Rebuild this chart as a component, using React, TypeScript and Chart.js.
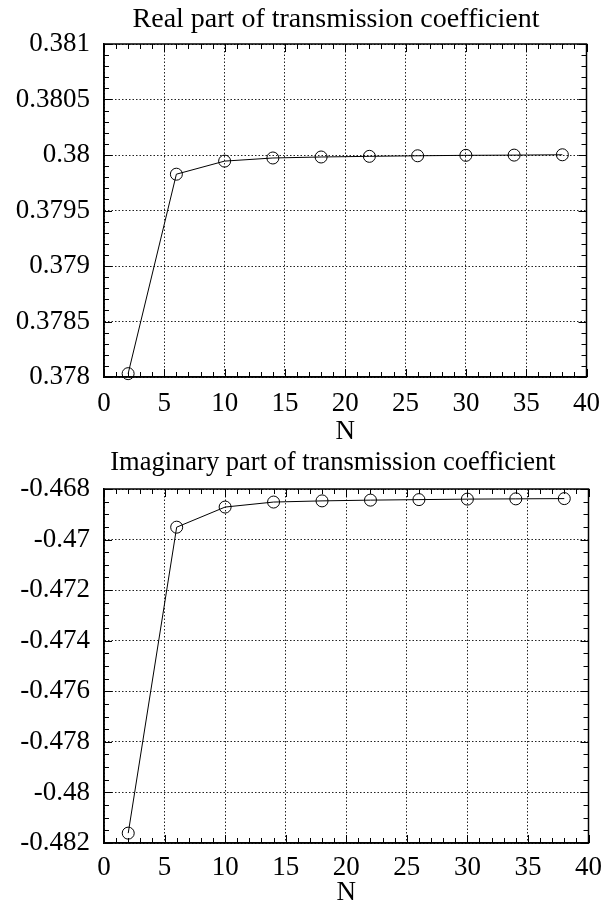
import React, { useEffect, useRef } from "react";
import { Chart, registerables } from "chart.js";

Chart.register(...registerables);

// ---- data ----
const nValues = [2, 6, 10, 14, 18, 22, 26, 30, 34, 38];
const realValues = [0.37803, 0.379827, 0.379945, 0.379973, 0.379982, 0.379988, 0.379993, 0.379997, 0.379999, 0.380002];
const imagValues = [-0.48161, -0.46951, -0.468714, -0.468516, -0.46847, -0.46844, -0.46842, -0.4684, -0.46839, -0.46838];

const xTicks = [0, 5, 10, 15, 20, 25, 30, 35, 40];
const xTickLabels = ["0", "5", "10", "15", "20", "25", "30", "35", "40"];
const realYTicks = [0.378, 0.3785, 0.379, 0.3795, 0.38, 0.3805, 0.381];
const realYLabels = ["0.378", "0.3785", "0.379", "0.3795", "0.38", "0.3805", "0.381"];
const imagYTicks = [-0.482, -0.48, -0.478, -0.476, -0.474, -0.472, -0.47, -0.468];
const imagYLabels = ["-0.482", "-0.48", "-0.478", "-0.476", "-0.474", "-0.472", "-0.47", "-0.468"];

const realTitle = "Real part of transmission coefficient";
const imagTitle = "Imaginary part of transmission coefficient";
const xTitle = "N";

const FONT_FAMILY = "'Liberation Serif', 'Times New Roman', serif";
const TICK_SIZE = 27;

const framePlugin = {
  id: "frameTicks",
  beforeDatasetsDraw(chart: any, _args: any, opts: any) {
    const { ctx, chartArea } = chart;
    const { left, right, top, bottom } = chartArea;
    const xs = chart.scales.x;
    const ys = chart.scales.y;
    ctx.save();
    ctx.setLineDash([]);
    ctx.strokeStyle = "#000";
    ctx.lineWidth = 1;
    ctx.beginPath();
    const nx = Math.round((xs.max - xs.min) / opts.xMinor);
    for (let i = 0; i <= nx; i++) {
      const v = xs.min + i * opts.xMinor;
      const px = Math.round(xs.getPixelForValue(v)) + 0.5;
      const len = i % opts.xPer === 0 ? 8 : 5;
      ctx.moveTo(px, bottom);
      ctx.lineTo(px, bottom - len);
      ctx.moveTo(px, top);
      ctx.lineTo(px, top + len);
    }
    const ny = Math.round((ys.max - ys.min) / opts.yMinor);
    for (let i = 0; i <= ny; i++) {
      const v = ys.min + i * opts.yMinor;
      const py = Math.round(ys.getPixelForValue(v)) + 0.5;
      const len = i % opts.yPer === 0 ? 8 : 5;
      ctx.moveTo(left, py);
      ctx.lineTo(left + len, py);
      ctx.moveTo(right, py);
      ctx.lineTo(right - len, py);
    }
    ctx.stroke();
    ctx.lineWidth = 1.5;
    ctx.strokeRect(left, top, right - left, bottom - top);
    ctx.restore();
  },
};

// title drawn centred on a chosen x (the reference title is not centred on the canvas)
const headingPlugin = {
  id: "heading",
  afterDraw(chart: any, _args: any, opts: any) {
    const { ctx } = chart;
    ctx.save();
    ctx.fillStyle = "#000";
    ctx.font = `normal ${opts.size}px ${FONT_FAMILY}`;
    ctx.textAlign = "center";
    ctx.textBaseline = "middle";
    ctx.fillText(opts.text, opts.x, opts.y);
    ctx.restore();
  },
};

function makeConfig(
  title: string,
  values: number[],
  yTicks: number[],
  yLabels: string[],
  layoutCfg: any,
  minorCfg: any
): any {
  const tickFont = { family: FONT_FAMILY, size: TICK_SIZE, lineHeight: 1, weight: "normal" };
  return {
    type: "line",
    data: {
      datasets: [
        {
          data: nValues.map((n, i) => ({ x: n, y: values[i] })),
          borderColor: "#000",
          borderWidth: 1,
          pointRadius: 6,
          pointStyle: "circle",
          pointBackgroundColor: "rgba(0,0,0,0)",
          pointBorderColor: "#000",
          pointBorderWidth: 1,
          tension: 0,
          clip: false,
        },
      ],
    },
    options: {
      animation: false,
      responsive: false,
      devicePixelRatio: 1,
      layout: { padding: { left: 0, right: 16, top: 44, bottom: 0 } },
      plugins: {
        legend: { display: false },
        tooltip: { enabled: false },
        title: { display: false },
        heading: {
          text: title,
          x: layoutCfg.titleX,
          y: layoutCfg.titleY,
          size: layoutCfg.titleSize,
        },
        frameTicks: minorCfg,
      },
      scales: {
        x: {
          type: "linear",
          min: 0,
          max: 40,
          afterBuildTicks: (s: any) => {
            s.ticks = xTicks.map((v) => ({ value: v }));
          },
          afterFit: (s: any) => {
            s.height = layoutCfg.xHeight;
          },
          ticks: {
            callback: (_v: any, i: number) => xTickLabels[i],
            color: "#000",
            font: tickFont,
            padding: layoutCfg.xTickPad,
            maxRotation: 0,
            autoSkip: false,
          },
          grid: { color: "#222", lineWidth: 1, drawTicks: false },
          border: { display: true, color: "#000", width: 1.5, dash: [1.5, 2] },
          title: {
            display: true,
            text: xTitle,
            color: "#000",
            font: tickFont,
            padding: { top: 0, bottom: layoutCfg.xTitleBottom },
          },
        },
        y: {
          type: "linear",
          min: yTicks[0],
          max: yTicks[yTicks.length - 1],
          afterBuildTicks: (s: any) => {
            s.ticks = yTicks.map((v) => ({ value: v }));
          },
          afterFit: (s: any) => {
            s.width = 104;
          },
          ticks: {
            callback: (_v: any, i: number) => yLabels[i],
            color: "#000",
            font: tickFont,
            padding: 14,
            autoSkip: false,
          },
          grid: { color: "#222", lineWidth: 1, drawTicks: false },
          border: { display: true, color: "#000", width: 1.5, dash: [1.5, 2] },
        },
      },
    },
    plugins: [framePlugin, headingPlugin],
  };
}

function ChartCanvas({ top, height, config }: { top: number; height: number; config: any }) {
  const ref = useRef<HTMLCanvasElement | null>(null);
  useEffect(() => {
    if (!ref.current) return;
    const chart = new Chart(ref.current, config);
    return () => chart.destroy();
  }, []);
  return (
    <canvas
      ref={ref}
      width={613}
      height={height}
      style={{ position: "absolute", left: 0, top, width: 613, height, display: "block" }}
    />
  );
}

export default function App() {
  const realCfg = makeConfig(
    realTitle,
    realValues,
    realYTicks,
    realYLabels,
    { titleX: 336, titleY: 20, titleSize: 28, xHeight: 68, xTickPad: 13, xTitleBottom: 0 },
    { xMinor: 1, xPer: 5, yMinor: 0.0001, yPer: 5 }
  );
  const imagCfg = makeConfig(
    imagTitle,
    imagValues,
    imagYTicks,
    imagYLabels,
    { titleX: 333, titleY: 18, titleSize: 26.5, xHeight: 66, xTickPad: 11, xTitleBottom: 3 },
    { xMinor: 1, xPer: 5, yMinor: 0.0005, yPer: 4 }
  );
  return (
    <div style={{ position: "absolute", left: 0, top: 0, width: 613, height: 909, background: "#fff" }}>
      <ChartCanvas top={0} height={445} config={realCfg} />
      <ChartCanvas top={445} height={464} config={imagCfg} />
    </div>
  );
}
